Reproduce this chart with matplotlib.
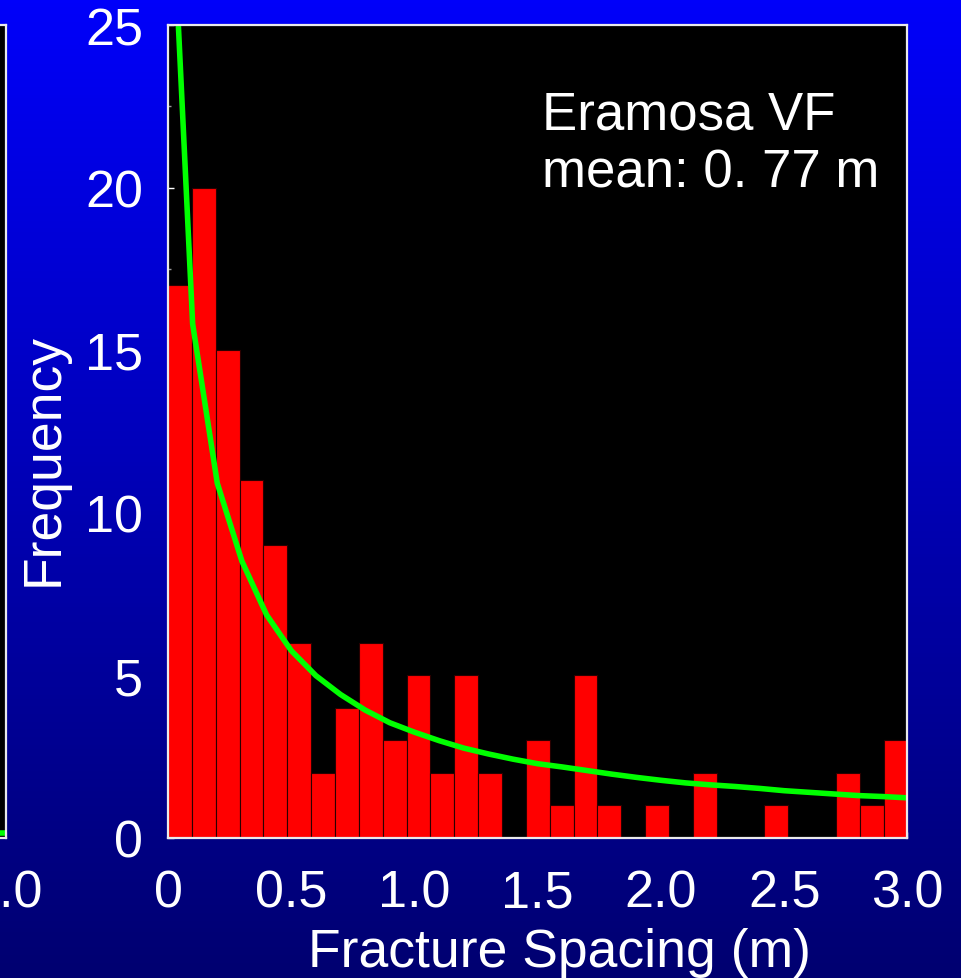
import numpy as np
import matplotlib
matplotlib.use("Agg")
import matplotlib.pyplot as plt
from matplotlib.ticker import MultipleLocator

plt.rcParams['font.family'] = ['Liberation Sans', 'DejaVu Sans']

# ---- data ----
frequency = [17, 20, 15, 11, 9, 6, 2, 4, 6, 3, 5, 2, 5, 2, 0, 3, 1, 5, 1, 0,
             1, 0, 2, 0, 0, 1, 0, 0, 2, 1, 3]
x_range = [0.0, 3.0]

curve_x = [0.042, 0.1, 0.2, 0.3, 0.4, 0.5, 0.6, 0.7, 0.8, 0.9, 1.0, 1.1, 1.2,
           1.3, 1.4, 1.5, 1.6, 1.7, 1.8, 1.9, 2.0, 2.1, 2.2, 2.3, 2.4, 2.5,
           2.6, 2.7, 2.8, 2.9, 3.0]
curve_y = [25.0, 15.8, 10.9, 8.5, 6.85, 5.75, 4.98, 4.40, 3.92, 3.53, 3.24,
           2.98, 2.75, 2.57, 2.41, 2.27, 2.17, 2.06, 1.95, 1.85, 1.76, 1.68,
           1.62, 1.57, 1.51, 1.44, 1.39, 1.34, 1.29, 1.26, 1.22]

x_ticks = [0, 0.5, 1.0, 1.5, 2.0, 2.5, 3.0]
x_tick_labels = ["0", "0.5", "1.0", "1.5", "2.0", "2.5", "3.0"]
y_ticks = [0, 5, 10, 15, 20, 25]
y_tick_labels = ["0", "5", "10", "15", "20", "25"]

# neighbouring (cut-off) chart on the left
left_curve_x = [2.8, 2.9, 3.0]
left_curve_y = [0.15, 0.14, 0.14]
left_x_ticks = [3.0]
left_x_tick_labels = ["3.0"]

title_lines = ["Eramosa VF", "mean: 0. 77 m"]
x_label = "Fracture Spacing (m)"
y_label = "Frequency"

# ---- figure ----
W, H, DPI = 962, 979, 100
fig = plt.figure(figsize=(W / DPI, H / DPI), dpi=DPI)

# gradient background
bg = fig.add_axes([0, 0, 1, 1], zorder=-10)
grad = np.linspace(0, 1, 256)[:, None]
top = np.array([0, 0, 250]) / 255
bot = np.array([0, 0, 112]) / 255
img = top[None, None, :] * (1 - grad[:, :, None]) + bot[None, None, :] * grad[:, :, None]
bg.imshow(img, aspect='auto', extent=[0, 1, 0, 1])
bg.set_axis_off()

ax_l, ax_r, ax_t, ax_b = 168, 907.5, 26, 838.5
pos = [ax_l / W, 1 - ax_b / H, (ax_r - ax_l) / W, (ax_b - ax_t) / H]
ax = fig.add_axes(pos)
ax.set_facecolor('black')

edges = np.linspace(x_range[0], x_range[1], len(frequency) + 1)
ax.bar(edges[:-1], frequency, width=np.diff(edges), align='edge',
       color='#FF0000', edgecolor='#2a0000', linewidth=0.8, zorder=2)
ax.plot(curve_x, curve_y, color='#00FF00', lw=4.0, zorder=3,
        solid_capstyle='butt')

ax.set_xlim(*x_range)
ax.set_ylim(0, 25)
ax.set_axisbelow(True)
ax.set_xticks(x_ticks)
ax.set_xticklabels(x_tick_labels)
ax.set_yticks(y_ticks)
ax.set_yticklabels(y_tick_labels)
ax.yaxis.set_minor_locator(MultipleLocator(2.5))
ax.tick_params(axis='both', which='major', direction='in', length=4.5,
               width=1.0, color='white', labelcolor='white', labelsize=37.5)
ax.tick_params(axis='x', pad=22)
ax.tick_params(axis='y', pad=18)
ax.tick_params(axis='y', which='minor', direction='in', length=2.5,
               width=1.0, color='#9a9a9a')
for s in ax.spines.values():
    s.set_color('#EAEAEA')
    s.set_linewidth(1.6)
    s.set_zorder(5)

# annotation
ax.text((541.7 - ax_l) / (ax_r - ax_l), (ax_b - 130) / (ax_b - ax_t),
        title_lines[0], transform=ax.transAxes, color='white',
        fontsize=38, va='baseline', ha='left', zorder=6)
ax.text((541.7 - ax_l) / (ax_r - ax_l), (ax_b - 188) / (ax_b - ax_t),
        title_lines[1], transform=ax.transAxes, color='white',
        fontsize=38, va='baseline', ha='left', zorder=6)

# axis labels
fig.text(559.5 / W, 1 - 966.7 / H, x_label, color='white', fontsize=38.5,
         ha='center', va='baseline')
fig.text(58 / W, 1 - 459 / H, y_label, color='white', fontsize=38.5,
         rotation=90, rotation_mode='anchor', ha='center', va='baseline')

# neighbouring chart, cut off at the left edge
left_right = 6.5
pos_l = [(left_right - (ax_r - ax_l)) / W, 1 - ax_b / H, (ax_r - ax_l) / W,
         (ax_b - ax_t) / H]
axL = fig.add_axes(pos_l)
axL.set_facecolor('black')
axL.plot(left_curve_x, left_curve_y, color='#00FF00', lw=4.0)
axL.set_xlim(*x_range)
axL.set_ylim(0, 25)
axL.set_xticks(left_x_ticks)
axL.set_xticklabels(left_x_tick_labels)
axL.set_yticks([])
axL.tick_params(axis='x', direction='in', length=4.5, color='white',
                labelcolor='white', labelsize=37.5, pad=22)
for s in axL.spines.values():
    s.set_color('#EAEAEA')
    s.set_linewidth(1.6)

fig.savefig('out.png', dpi=DPI)
